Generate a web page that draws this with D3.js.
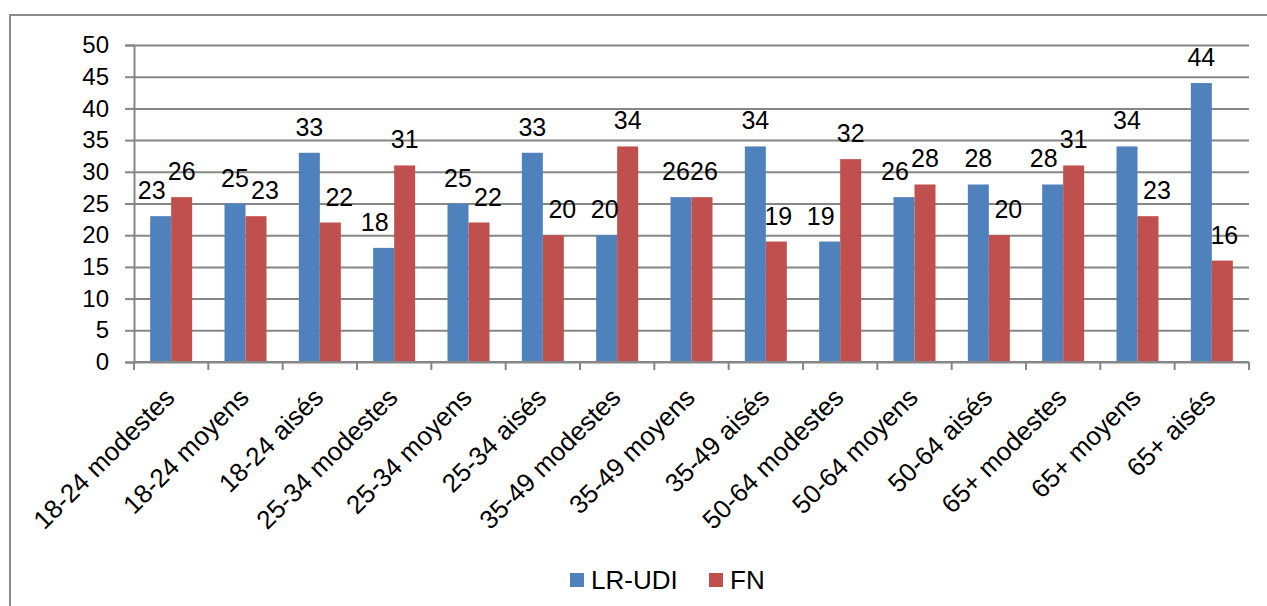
<!DOCTYPE html>
<html>
<head>
<meta charset="utf-8">
<script src="https://cdn.jsdelivr.net/npm/d3@7"></script>
<style>
  html, body { margin: 0; padding: 0; background: #fff; }
  svg { display: block; font-family: "Liberation Sans", Arial, sans-serif; }
</style>
</head>
<body>
<div id="chart"></div>
<script>
// Catégories et valeurs (%)
const categories = [
  "18-24 modestes", "18-24 moyens", "18-24 aisés",
  "25-34 modestes", "25-34 moyens", "25-34 aisés",
  "35-49 modestes", "35-49 moyens", "35-49 aisés",
  "50-64 modestes", "50-64 moyens", "50-64 aisés",
  "65+ modestes", "65+ moyens", "65+ aisés"
];
const seriesNames = ["LR-UDI", "FN"];
const lrUdi = [23, 25, 33, 18, 25, 33, 20, 26, 34, 19, 26, 28, 28, 34, 44];
const fn = [26, 23, 22, 31, 22, 20, 34, 26, 19, 32, 28, 20, 31, 23, 16];
const yTicks = [0, 5, 10, 15, 20, 25, 30, 35, 40, 45, 50];
const colors = ["#4f81bd", "#c0504d"];

const width = 1267;
const height = 606;
const marginTop = 45;
const marginLeft = 134;
const plotRight = 1249;
const plotBottom = 362;

const element = document.getElementById("chart");

const rows = categories.map((c, i) => ({ cat: c, values: [lrUdi[i], fn[i]] }));

const svg = d3.select(element)
  .append("svg")
    .attr("width", width)
    .attr("height", height)
    .attr("viewBox", [0, 0, width, height]);

// cadre extérieur
svg.append("rect")
    .attr("x", 10)
    .attr("y", 15)
    .attr("width", width + 20)
    .attr("height", height + 20)
    .attr("fill", "none")
    .attr("stroke", "#8a8a8a")
    .attr("stroke-width", 2);

// Scales
const x0 = d3.scaleBand()
    .domain(categories)
    .range([marginLeft, plotRight]);

const x1 = d3.scaleBand()
    .domain(seriesNames)
    .range([0, x0.bandwidth()])
    .paddingOuter(0.77);

const y = d3.scaleLinear()
    .domain([0, 50])
    .range([plotBottom, marginTop]);

// grille + axe Y
svg.append("g")
    .attr("transform", `translate(${marginLeft},0)`)
    .call(d3.axisLeft(y).tickValues(yTicks).tickSize(9).tickPadding(16))
    .call(g => g.select(".domain").attr("stroke", "#868686").attr("stroke-width", 2))
    .call(g => g.selectAll(".tick line").attr("stroke", "#868686").attr("stroke-width", 2))
    .call(g => g.selectAll(".tick line").clone()
        .attr("x1", 0)
        .attr("x2", plotRight - marginLeft))
    .call(g => g.selectAll(".tick text")
        .attr("font-size", 24)
        .attr("fill", "#000")
        .attr("font-family", "Liberation Sans, Arial, sans-serif"));

// barres
const groups = svg.append("g")
  .selectAll("g")
  .data(rows)
  .join("g")
    .attr("transform", d => `translate(${x0(d.cat)},0)`);

groups.selectAll("rect")
  .data(d => d.values.map((v, i) => ({ key: seriesNames[i], value: v, idx: i })))
  .join("rect")
    .attr("x", d => x1(d.key))
    .attr("y", d => y(d.value))
    .attr("width", x1.bandwidth())
    .attr("height", d => y(0) - y(d.value))
    .attr("fill", d => colors[d.idx]);

// étiquettes de valeur : celle de la barre la plus basse est poussée vers l'extérieur
function labelShift(values, i) {
  const diff = y(values[i]) - y(values[1 - i]); // > 0 : l'autre barre est plus haute
  const out = i === 0 ? -1 : 1;
  if (Math.abs(diff) <= 5) return i === 0 ? -5 : 2;
  if (diff > 5 && diff < 85) return out * 9;
  if (diff >= 85) return out * 2;
  return 0;
}

groups.selectAll("text")
  .data(d => d.values.map((v, i) => ({
    key: seriesNames[i], value: v, shift: labelShift(d.values, i)
  })))
  .join("text")
    .attr("x", d => x1(d.key) + x1.bandwidth() / 2 + d.shift)
    .attr("y", d => y(d.value) - 17)
    .attr("text-anchor", "middle")
    .attr("font-size", 25)
    .attr("fill", "#000")
    .text(d => d.value);

// axe X
const xAxis = svg.append("g")
    .attr("transform", `translate(0,${plotBottom})`);

xAxis.append("line")
    .attr("x1", marginLeft)
    .attr("x2", plotRight)
    .attr("stroke", "#868686")
    .attr("stroke-width", 2);

xAxis.selectAll("line.tick")
  .data(categories.concat(["end"]))
  .join("line")
    .attr("class", "tick")
    .attr("x1", (d, i) => i < categories.length ? x0(d) : plotRight)
    .attr("x2", (d, i) => i < categories.length ? x0(d) : plotRight)
    .attr("y1", 0)
    .attr("y2", 8)
    .attr("stroke", "#868686")
    .attr("stroke-width", 2);

xAxis.selectAll("text")
  .data(categories)
  .join("text")
    .attr("transform", d => `translate(${x0(d) + x0.bandwidth() / 2 + 5},37) rotate(-45)`)
    .attr("text-anchor", "end")
    .attr("font-size", 26)
    .attr("fill", "#000")
    .text(d => d);

// légende
const legend = svg.append("g")
    .attr("transform", "translate(570,573)");

const legendX = [0, 139];
seriesNames.forEach((name, i) => {
  legend.append("rect")
      .attr("x", legendX[i])
      .attr("y", 0)
      .attr("width", 14)
      .attr("height", 14)
      .attr("fill", colors[i]);
  legend.append("text")
      .attr("x", legendX[i] + 21)
      .attr("y", 16)
      .attr("font-size", 26)
      .attr("fill", "#000")
      .text(name);
});
</script>
</body>
</html>
